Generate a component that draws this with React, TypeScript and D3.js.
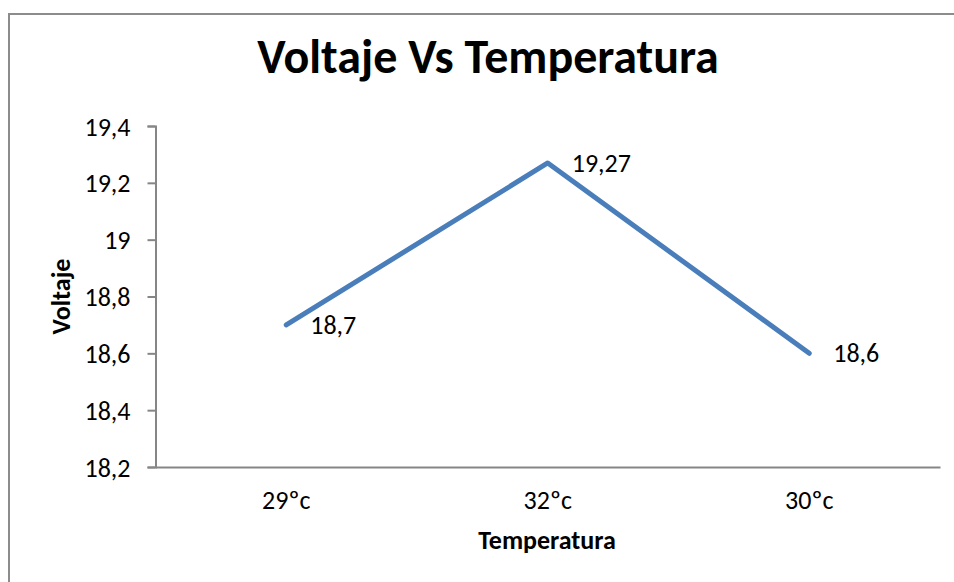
import React, { useEffect, useRef } from 'react'
import * as d3 from 'd3'

const categories = ['29ºc', '32ºc', '30ºc']
const voltaje = [18.7, 19.27, 18.6]
const yTicks = [18.2, 18.4, 18.6, 18.8, 19, 19.2, 19.4]
const labels = ['18,7', '19,27', '18,6']

const FONT = 'Carlito, Calibri, Lato, sans-serif'

const App = () => {
    const ref = useRef<SVGSVGElement>(null)
    const width = 954
    const height = 582

    useEffect(() => {
        if (!ref.current) return
        const svg = d3.select(ref.current)
        svg.selectAll('*').remove()

        // chart frame
        svg.append('rect')
            .attr('x', 9)
            .attr('y', 14)
            .attr('width', 980)
            .attr('height', 600)
            .attr('fill', 'white')
            .attr('stroke', '#8c8c8c')
            .attr('stroke-width', 2)

        const plot = { left: 155.5, right: 940, top: 126, bottom: 467 }

        const x = d3.scaleBand()
            .domain(categories)
            .range([plot.left, plot.right])
        const y = d3.scaleLinear()
            .domain([18.2, 19.4])
            .range([plot.bottom, plot.top])

        // title
        svg.append('text')
            .attr('x', 488)
            .attr('y', 73)
            .attr('text-anchor', 'middle')
            .style('font-family', FONT)
            .style('font-weight', 'bold')
            .style('font-size', '48px')
            .text('Voltaje Vs Temperatura')

        // y axis
        const yAxis = svg.append('g')
            .attr('transform', `translate(${plot.left},0)`)
            .call(d3.axisLeft(y).tickValues(yTicks).tickSize(8).tickPadding(17)
                .tickFormat(d => String(d).replace('.', ',')))
        yAxis.select('.domain').attr('stroke', '#868686').attr('stroke-width', 2)
        yAxis.selectAll('.tick line').attr('stroke', '#868686').attr('stroke-width', 2)
        yAxis.selectAll('.tick text')
            .attr('fill', 'black')
            .attr('dy', '0.35em')
            .style('font-family', FONT)
            .style('font-size', '26px')

        // x axis
        const xAxis = svg.append('g')
            .attr('transform', `translate(0,${plot.bottom})`)
            .call(d3.axisBottom(x).tickSize(0).tickPadding(24).tickSizeOuter(0))
        xAxis.select('.domain').attr('stroke', '#868686').attr('stroke-width', 2)
        xAxis.selectAll('.tick text')
            .attr('fill', 'black')
            .style('font-family', FONT)
            .style('font-size', '26px')

        // axis titles
        svg.append('text')
            .attr('x', 547)
            .attr('y', 549)
            .attr('text-anchor', 'middle')
            .style('font-family', FONT)
            .style('font-weight', 'bold')
            .style('font-size', '26px')
            .text('Temperatura')

        svg.append('text')
            .attr('transform', `translate(70,${(plot.top + plot.bottom) / 2}) rotate(-90)`)
            .attr('text-anchor', 'middle')
            .style('font-family', FONT)
            .style('font-weight', 'bold')
            .style('font-size', '26px')
            .text('Voltaje')

        const cx = (c: string) => (x(c) as number) + x.bandwidth() / 2

        const line = d3.line<number>()
            .x((d, i) => cx(categories[i]))
            .y(d => y(d))

        svg.append('path')
            .datum(voltaje)
            .attr('d', line)
            .attr('fill', 'none')
            .attr('stroke', '#4a7ebb')
            .attr('stroke-width', 5)
            .attr('stroke-linecap', 'round')
            .attr('stroke-linejoin', 'round')

        svg.selectAll('.lbl')
            .data(voltaje)
            .join('text')
            .attr('class', 'lbl')
            .attr('x', (d, i) => cx(categories[i]) + 24)
            .attr('y', d => y(d))
            .attr('dy', '0.35em')
            .style('font-family', FONT)
            .style('font-size', '26px')
            .text((d, i) => labels[i])
    }, [])

    return (
        <svg
            ref={ref}
            width={width}
            height={height}
            style={{ position: 'absolute', left: 0, top: 0, display: 'block' }}
        />
    )
}

export default App
